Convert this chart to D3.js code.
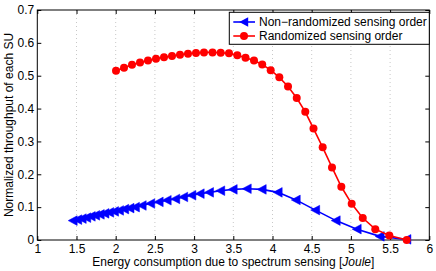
<!DOCTYPE html>
<html><head><meta charset="utf-8">
<script src="https://cdn.jsdelivr.net/npm/d3@7"></script>
<style>body{margin:0;background:#fff;} svg{display:block;} text{font-family:"Liberation Sans",Arial,sans-serif;}</style>
</head><body>
<svg id="c" width="436" height="271"></svg>
<script>
const redX = [2.004,2.106,2.208,2.310,2.412,2.514,2.616,2.718,2.820,2.922,3.024,3.126,3.235,3.339,3.445,3.551,3.656,3.764,3.869,3.977,4.087,4.198,4.309,4.418,4.523,4.640,4.759,4.878,5.010,5.151,5.311,5.490,5.712];
const redY = [0.515,0.524,0.533,0.540,0.546,0.552,0.556,0.560,0.564,0.567,0.569,0.571,0.571,0.570,0.568,0.562,0.555,0.546,0.534,0.517,0.495,0.467,0.432,0.390,0.339,0.282,0.221,0.162,0.110,0.067,0.033,0.014,0.000];
const blueX = [1.455,1.513,1.570,1.628,1.685,1.742,1.800,1.860,1.921,1.982,2.046,2.112,2.180,2.249,2.335,2.444,2.552,2.654,2.763,2.865,2.969,3.075,3.194,3.337,3.496,3.675,3.866,4.070,4.300,4.548,4.810,5.078,5.371,5.712];
const blueY = [0.059,0.062,0.065,0.068,0.072,0.075,0.078,0.081,0.084,0.087,0.090,0.094,0.097,0.100,0.105,0.111,0.116,0.121,0.125,0.131,0.136,0.141,0.145,0.150,0.154,0.156,0.154,0.145,0.122,0.091,0.059,0.033,0.011,0.002];
const xTicks = [1,1.5,2,2.5,3,3.5,4,4.5,5,5.5,6];
const xTickLabels = ["1","1.5","2","2.5","3","3.5","4","4.5","5","5.5","6"];
const yTicks = [0,0.1,0.2,0.3,0.4,0.5,0.6,0.7];
const yTickLabels = ["0","0.1","0.2","0.3","0.4","0.5","0.6","0.7"];
const seriesNames = ["Non\u2212randomized sensing order","Randomized sensing order"];
const xLabelMain = "Energy consumption due to spectrum sensing [";
const xLabelUnit = "Joule";
const yLabel = "Normalized throughput of each SU";

const L=37.3,R=429.3,T=10,B=240;
const svg=d3.select("#c");
const x=d3.scaleLinear().domain([1,6]).range([L,R]);
const y=d3.scaleLinear().domain([0,0.7]).range([B,T]);
const fs=12;

// grid
svg.append("g").selectAll("line").data(xTicks.slice(1,-1)).join("line")
  .attr("x1",d=>x(d)).attr("x2",d=>x(d)).attr("y1",T).attr("y2",B)
  .attr("stroke","#c8c8c8").attr("stroke-width",1).attr("stroke-dasharray","1,3");

// axes
const ax=svg.append("g").attr("transform",`translate(0,${B})`)
  .call(d3.axisBottom(x).tickValues(xTicks).tickFormat((d,i)=>xTickLabels[i]).tickSizeInner(-4).tickSizeOuter(0).tickPadding(4.5));
const ay=svg.append("g").attr("transform",`translate(${L},0)`)
  .call(d3.axisLeft(y).tickValues(yTicks).tickFormat((d,i)=>yTickLabels[i]).tickSizeInner(-4).tickSizeOuter(0).tickPadding(3));
const axt=svg.append("g").attr("transform",`translate(0,${T})`)
  .call(d3.axisTop(x).tickValues(xTicks).tickFormat("").tickSizeInner(-4).tickSizeOuter(0));
const ayr=svg.append("g").attr("transform",`translate(${R},0)`)
  .call(d3.axisRight(y).tickValues(yTicks).tickFormat("").tickSizeInner(-4).tickSizeOuter(0));
[ax,ay,axt,ayr].forEach(g=>{
  g.selectAll("path").remove();
  g.selectAll("line").attr("stroke","#000");
  g.selectAll("text").attr("font-size",fs).attr("fill","#000").style("font-family","'Liberation Sans',Arial,sans-serif");
});
svg.append("rect").attr("x",L).attr("y",T).attr("width",R-L).attr("height",B-T)
  .attr("fill","none").attr("stroke","#000").attr("stroke-width",1);

// labels
const xl=svg.append("text").attr("x",(L+R)/2).attr("y",266).attr("text-anchor","middle").attr("font-size",fs);
xl.append("tspan").text(xLabelMain);
xl.append("tspan").attr("font-style","italic").text(xLabelUnit);
xl.append("tspan").text("]");
svg.append("text").attr("transform",`translate(13,${(T+B)/2}) rotate(-90)`).attr("text-anchor","middle").attr("font-size",fs).text(yLabel);

const line=d3.line().x(d=>x(d[0])).y(d=>y(d[1]));
const blue=blueX.map((v,i)=>[v,blueY[i]]);
const red=redX.map((v,i)=>[v,redY[i]]);
const tri="M-4.8,0L4.2,-4.8L4.2,4.8Z";

svg.append("path").datum(blue).attr("d",line).attr("fill","none").attr("stroke","#0000ff").attr("stroke-width",1.6);
svg.append("g").selectAll("path").data(blue).join("path").attr("d",tri)
  .attr("transform",d=>`translate(${x(d[0])},${y(d[1])})`).attr("fill","#0000ff").attr("stroke","#0000ff").attr("stroke-width",0.5);

svg.append("path").datum(red).attr("d",line).attr("fill","none").attr("stroke","#ff0000").attr("stroke-width",1.6);
svg.append("g").selectAll("circle").data(red).join("circle")
  .attr("cx",d=>x(d[0])).attr("cy",d=>y(d[1])).attr("r",4).attr("fill","#ff0000");

// legend
const lg=svg.append("g");
lg.append("rect").attr("x",229.3).attr("y",12.3).attr("width",R-229.3).attr("height",32).attr("fill","#fff").attr("stroke","#000").attr("stroke-width",1);
const rows=[22,36];
lg.append("line").attr("x1",233.3).attr("x2",255).attr("y1",rows[0]).attr("y2",rows[0]).attr("stroke","#0000ff").attr("stroke-width",1.6);
lg.append("path").attr("d",tri).attr("transform",`translate(244,${rows[0]})`).attr("fill","#0000ff");
lg.append("line").attr("x1",233.3).attr("x2",255).attr("y1",rows[1]).attr("y2",rows[1]).attr("stroke","#ff0000").attr("stroke-width",1.6);
lg.append("circle").attr("cx",244).attr("cy",rows[1]).attr("r",4).attr("fill","#ff0000");
seriesNames.forEach((s,i)=>{
  lg.append("text").attr("x",259).attr("y",rows[i]).attr("dy","0.35em").attr("font-size",fs).text(s);
});
</script>
</body></html>
